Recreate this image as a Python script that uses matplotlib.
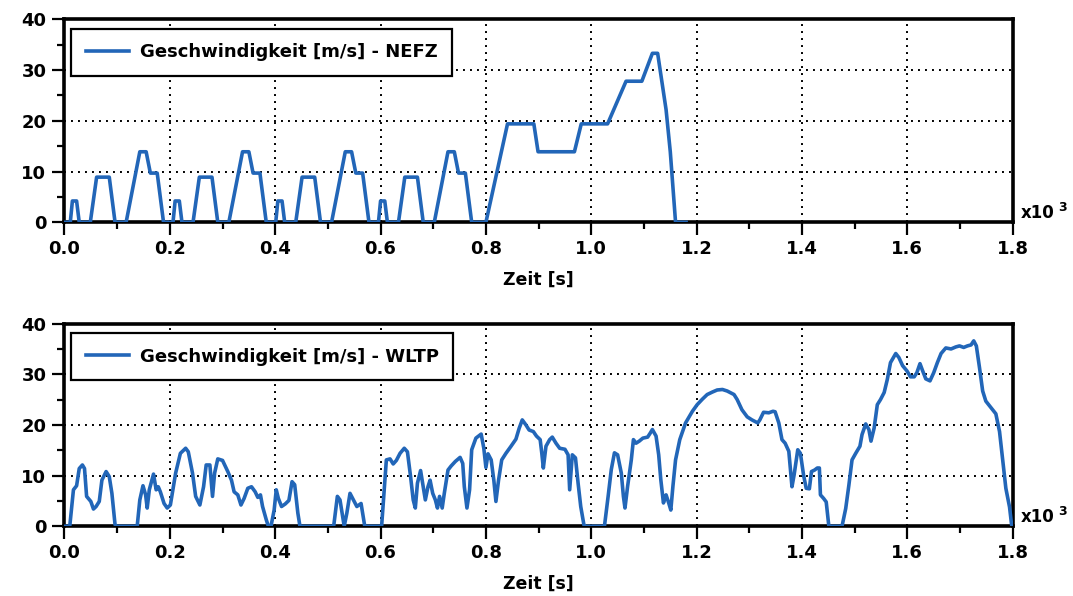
import matplotlib
matplotlib.use("Agg")
import matplotlib.pyplot as plt
from matplotlib.ticker import MultipleLocator, FuncFormatter

# NEFZ (NEDC) speed profile: time [s], speed [m/s]
nefz_t = [0, 11, 15, 23, 28, 49, 61, 85, 96, 117, 143, 155, 163, 176, 188,
          206, 210, 218, 223, 244, 256, 280, 291, 312, 338, 350, 358, 371, 383,
          401, 405, 413, 418, 439, 451, 475, 486, 507, 533, 545, 553, 566, 578,
          596, 600, 608, 613, 634, 646, 670, 681, 702, 728, 740, 748, 761, 773,
          800, 841, 891, 899, 968, 981, 1031, 1066, 1096, 1116, 1126, 1142, 1150, 1160, 1180]
nefz_v = [0, 0, 4.2, 4.2, 0, 0, 8.9, 8.9, 0, 0, 13.9, 13.9, 9.7, 9.7, 0,
          0, 4.2, 4.2, 0, 0, 8.9, 8.9, 0, 0, 13.9, 13.9, 9.7, 9.7, 0,
          0, 4.2, 4.2, 0, 0, 8.9, 8.9, 0, 0, 13.9, 13.9, 9.7, 9.7, 0,
          0, 4.2, 4.2, 0, 0, 8.9, 8.9, 0, 0, 13.9, 13.9, 9.7, 9.7, 0,
          0, 19.4, 19.4, 13.9, 13.9, 19.4, 19.4, 27.8, 27.8, 33.3, 33.3, 22.2, 13.9, 0, 0]

# WLTP speed profile: time [s], speed [m/s]
wltp_t = [0, 10, 17, 23, 28, 34, 38, 42, 50, 55, 60, 66, 71, 79, 85, 90, 96, 99,
          138, 143, 149, 154, 157, 161, 169, 174, 178, 182, 189, 195, 201, 211, 220,
          230, 235, 243, 249, 257, 264, 269, 276, 281, 285, 291, 300, 310, 317, 322,
          329, 335, 341, 348, 355, 362, 367, 372, 376, 383, 387, 392, 398, 402, 406,
          412, 419, 426, 432, 437, 443, 447, 511, 514, 518, 523, 528, 531, 536, 542,
          547, 555, 563, 566, 570, 602, 607, 611, 618, 624, 630, 637, 645, 651, 657,
          662, 666, 670, 676, 681, 685, 690, 694, 699, 704, 708, 712, 717, 721, 728,
          734, 742, 751, 756, 759, 764, 769, 773, 781, 791, 796, 800, 804, 810, 815,
          819, 824, 830, 838, 847, 857, 863, 869, 876, 882, 890, 896, 903, 906, 909,
          914, 921, 926, 933, 940, 950, 956, 959, 964, 970, 975, 980, 986, 987, 1025,
          1032, 1038, 1044, 1050, 1057, 1061, 1064, 1069, 1076, 1080, 1085, 1091,
          1098, 1107, 1112, 1116, 1123, 1128, 1132, 1137, 1142, 1147, 1151, 1155,
          1160, 1168, 1179, 1192, 1201, 1211, 1220, 1230, 1239, 1249, 1258, 1271,
          1277, 1286, 1296, 1305, 1316, 1320, 1327, 1337, 1345, 1349, 1356, 1362,
          1368, 1375, 1381, 1385, 1392, 1397, 1403, 1408, 1414, 1418, 1424, 1429,
          1433, 1435, 1441, 1446, 1451, 1476, 1483, 1489, 1495, 1502, 1510, 1514,
          1521, 1527, 1531, 1537, 1543, 1549, 1556, 1562, 1568, 1578, 1584, 1591,
          1599, 1606, 1613, 1618, 1624, 1629, 1635, 1643, 1650, 1657, 1664, 1673,
          1683, 1692, 1699, 1707, 1714, 1721, 1726, 1731, 1737, 1743, 1749, 1758,
          1768, 1775, 1781, 1787, 1794, 1798, 1800]
wltp_v = [0, 0, 7.2, 8.0, 11.4, 12.1, 11.4, 5.9, 4.9, 3.4, 3.9, 4.9, 9.1, 10.8, 9.8, 6.5, 0.3, 0,
          0, 5.2, 8.0, 6.2, 3.6, 7.2, 10.3, 7.2, 7.8, 6.8, 4.5, 3.6, 4.2, 10.5, 14.4,
          15.4, 14.7, 10.5, 5.9, 4.2, 7.8, 12.1, 12.1, 5.9, 10.5, 13.3, 13.0, 10.8, 9.1, 6.8,
          6.2, 4.2, 5.5, 7.5, 7.8, 6.8, 5.7, 6.2, 3.9, 1.3, 0, 0, 3.2, 7.2, 5.5,
          3.9, 4.4, 5.1, 8.8, 8.2, 2.6, 0, 0, 2.6, 5.9, 5.2, 1.9, 0, 2.6, 6.5,
          5.5, 3.9, 4.5, 2.6, 0, 0, 7.2, 13.1, 13.3, 12.3, 13.0, 14.4, 15.4, 14.7, 9.8,
          5.2, 3.6, 8.5, 11.0, 7.8, 5.2, 7.8, 9.1, 6.5, 5.2, 3.6, 5.9, 3.6, 6.5, 11.1,
          11.9, 12.8, 13.6, 12.4, 7.8, 3.6, 7.2, 15.1, 17.4, 18.2, 15.4, 11.6, 14.3, 13.1, 9.1,
          4.9, 9.1, 13.1, 14.4, 15.7, 17.2, 19.3, 21.0, 20.0, 19.0, 18.7, 17.8, 17.1, 14.5, 11.5,
          15.8, 17.1, 17.6, 16.4, 15.4, 15.2, 14.1, 7.2, 14.1, 13.5, 8.5, 3.9, 0.3, 0, 0,
          5.9, 11.2, 14.5, 14.1, 10.5, 5.9, 3.6, 7.9, 13.1, 17.1, 16.4, 16.8,
          17.4, 17.6, 18.4, 19.1, 17.8, 14.1, 9.2, 4.6, 6.2, 4.6, 3.2, 7.9,
          13.1, 17.1, 20.4, 22.7, 24.0, 25.1, 26.0, 26.5, 26.9, 27.0, 26.7, 26.0,
          25.0, 23.0, 21.6, 21.0, 20.4, 21.0, 22.5, 22.4, 22.7, 22.6, 20.4, 17.1,
          16.4, 14.8, 7.8, 10.1, 15.1, 14.4, 10.1, 7.5, 7.4, 10.8, 11.1, 11.5,
          11.5, 6.2, 5.5, 4.8, 0, 0, 3.5, 8.1, 13.1, 14.4, 15.8, 18.1,
          20.2, 19.1, 16.8, 19.4, 24.0, 25.0, 26.4, 29.0, 32.3, 34.1, 33.3, 31.7,
          30.7, 29.5, 29.5, 30.3, 32.1, 30.7, 29.1, 28.7, 30.3, 32.3, 34.1, 35.2,
          35.0, 35.4, 35.6, 35.3, 35.6, 35.8, 36.6, 35.6, 31.3, 26.7, 24.7, 23.5,
          22.2, 18.7, 13.1, 7.5, 3.8, 0.2, 0]

line_color = "#2266b8"

plt.rcParams["font.family"] = "DejaVu Sans"
plt.rcParams["font.weight"] = "bold"

fig = plt.figure(figsize=(10.73, 5.96), dpi=100)
ax1 = fig.add_axes([0.0601, 0.627, 0.8837, 0.3406])
ax2 = fig.add_axes([0.0601, 0.117, 0.8837, 0.3400])

panels = [(ax1, nefz_t, nefz_v, "Geschwindigkeit [m/s] - NEFZ"),
          (ax2, wltp_t, wltp_v, "Geschwindigkeit [m/s] - WLTP")]

for ax, t, v, label in panels:
    ax.plot(t, v, color=line_color, linewidth=2.6, label=label, zorder=3)
    ax.set_xlim(0, 1800)
    ax.set_ylim(0, 40)
    ax.xaxis.set_major_locator(MultipleLocator(200))
    ax.xaxis.set_minor_locator(MultipleLocator(100))
    ax.yaxis.set_major_locator(MultipleLocator(10))
    ax.yaxis.set_minor_locator(MultipleLocator(5))
    ax.xaxis.set_major_formatter(FuncFormatter(lambda x, pos: f"{x / 1000:.1f}"))
    ax.tick_params(which="major", direction="out", length=9, width=1.6, labelsize=13, pad=4)
    ax.tick_params(which="minor", direction="out", length=5, width=1.6)
    for lab in ax.get_xticklabels() + ax.get_yticklabels():
        lab.set_fontweight("bold")
    ax.grid(True, which="major", color="black", linestyle=(0, (1, 2.6)), linewidth=1.4)
    for sp in ax.spines.values():
        sp.set_linewidth(2.6)
        sp.set_color("black")
    ax.set_xlabel("Zeit [s]", fontsize=12.5, fontweight="bold", labelpad=9)
    leg = ax.legend(loc="upper left", bbox_to_anchor=(0.007, 0.952), borderaxespad=0,
                    fancybox=False, framealpha=1, edgecolor="black", fontsize=13,
                    handlelength=2.4, handletextpad=0.6, borderpad=0.8)
    leg.get_frame().set_linewidth(1.6)
    for txt in leg.get_texts():
        txt.set_fontweight("bold")
    ax.text(1.009, 0.02, "x10", transform=ax.transAxes, fontsize=12,
            fontweight="bold", ha="left", va="baseline")
    ax.text(1.048, 0.055, "3", transform=ax.transAxes, fontsize=9,
            ha="left", va="baseline")

fig.savefig("out.png", dpi=100)
